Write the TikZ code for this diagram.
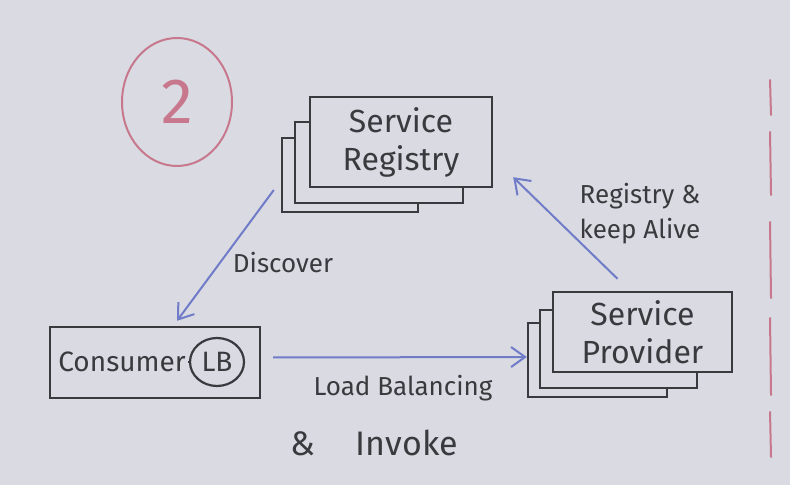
\documentclass[tikz,border=0pt]{standalone}
\usepackage{fontspec}
\setmainfont{Fira Sans}
\usetikzlibrary{positioning,shapes.geometric,arrows.meta}
\definecolor{board}{RGB}{217,218,226}
\definecolor{ink}{RGB}{58,58,62}
\definecolor{bluepen}{RGB}{112,124,200}
\definecolor{redpen}{RGB}{200,120,140}

\begin{document}
\begin{tikzpicture}[x=0.5pt, y=-0.5pt,
	box/.style = {draw=ink, line width=1.2pt, fill=board, rectangle, inner sep=0pt},
	txt/.style = {text=ink, font=\fontsize{16}{19}\selectfont, align=center},
	lbl/.style = {text=ink, font=\fontsize{13}{17.5}\selectfont, align=left},
	flow/.style = {draw=bluepen, line width=1pt, -{Straight Barb[length=7pt,width=10pt]}}]
		\useasboundingbox (0,0) rectangle (790,485);
		\fill[board] (0,0) rectangle (790,485);
		% step number
		\node[draw=redpen, line width=1pt, ellipse, minimum width=55pt, minimum height=64pt, text=redpen, font=\fontsize{32}{32}\selectfont] (stepnum) at (177,102) {\raisebox{-4pt}{2}};
		% registry stack
		\node[box, minimum width=68pt, minimum height=37pt] (regC) at (350,175) {};
		\node[box, minimum width=84pt, minimum height=40.5pt] (regB) at (379,162.5) {};
		\node[box, txt, minimum width=91pt, minimum height=45pt] (regA) at (401,142) {Service\\Registry};
		% provider stack
		\node[box, minimum width=69.5pt, minimum height=37pt] (provC) at (597.5,360) {};
		\node[box, minimum width=78.5pt, minimum height=39pt] (provB) at (618.5,349) {};
		\node[box, txt, minimum width=89.5pt, minimum height=40pt] (provA) at (642.5,332) {Service\\Provider};
		% consumer
		\node[box, minimum width=105pt, minimum height=35.5pt] (cons) at (155,362.5) {};
		\node[txt, font=\fontsize{14}{17}\selectfont, inner sep=1pt] (consTxt) at (122,362) {Consumer};
		\node[draw=ink, line width=1.1pt, ellipse, minimum width=27pt, minimum height=24pt, inner sep=0pt, txt, font=\fontsize{14}{17}\selectfont] (lb) at (217,362) {LB};
		\draw[ink, line width=1.1pt] (consTxt.east) -- (lb.west);
		% flows
		\draw[flow] ([shift={(-7,15)}]regC.west) -- ([shift={(22,-5)}]cons.north);
		\draw[flow] ([shift={(12,-5)}]cons.east) -- ([shift={(0,-3)}]provC.west);
		\draw[flow] ([shift={(-25,-12)}]provA.north) -- ([shift={(20,-11)}]regA.south east);
		\node[lbl] (discover) at (283,263) {Discover};
		\node[lbl] (keepalive) at (640,214) {Registry \&\\keep Alive};
		\node[lbl] (lbtext) at (403,388) {Load Balancing};
		\node[lbl, font=\fontsize{17}{20}\selectfont] (invoke) at (374,443) {\&\hspace{1.2em}Invoke};
		% boundary
		\foreach \a/\b in {80/115,132/195,222/298,318/395,412/457}
			\draw[redpen, line width=1pt, line cap=round] (770,\a) -- (771,\b);
	\end{tikzpicture}
\end{document}
